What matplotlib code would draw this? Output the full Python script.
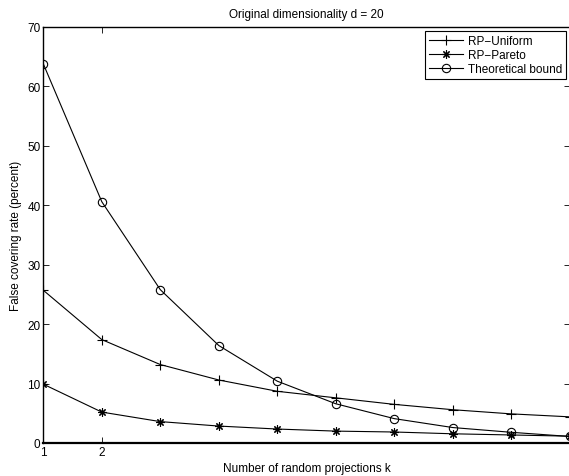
import matplotlib
matplotlib.use("Agg")
import matplotlib.pyplot as plt

# ========== DATA ==========
k_values = [1, 2, 3, 4, 5, 6, 7, 8, 9, 10]
rp_uniform = [25.7, 17.4, 13.2, 10.6, 8.7, 7.6, 6.5, 5.6, 4.9, 4.4]
rp_pareto = [9.9, 5.2, 3.6, 2.85, 2.35, 2.0, 1.85, 1.55, 1.35, 1.15]
theoretical = [63.8, 40.6, 25.8, 16.4, 10.4, 6.6, 4.1, 2.6, 1.8, 1.1]
y_ticks = [0, 10, 20, 30, 40, 50, 60, 70]
x_ticks = [1, 2]
# ==========================

plt.rcParams["font.family"] = ["Liberation Sans", "DejaVu Sans"]
plt.rcParams["font.size"] = 8.5

fig = plt.figure(figsize=(5.69, 4.77), dpi=100)
ax = fig.add_axes([43.3 / 569, 33 / 477, 526.5 / 569, 416 / 477])

line_kw = dict(color="black", linewidth=0.8, markerfacecolor="none",
               markeredgecolor="black", markeredgewidth=0.8)
ax.plot(k_values, rp_uniform, marker="+", markersize=7, label="RP\u2212Uniform", **line_kw)
ax.plot(k_values, rp_pareto, marker=(8, 2, 0), markersize=6, label="RP\u2212Pareto", **line_kw)
ax.plot(k_values, theoretical, marker="o", markersize=6, label="Theoretical bound", **line_kw)

ax.set_xlim(1, 10)
ax.set_ylim(0, 70)
ax.set_xticks(x_ticks)
ax.set_yticks(y_ticks)
ax.tick_params(direction="in", length=4, width=0.6, top=True, right=True, pad=2)
for sp in ax.spines.values():
    sp.set_linewidth(1.0)
ax.spines["bottom"].set_linewidth(1.6)

ax.set_title("Original dimensionality d = 20", fontsize=8.5, pad=7)
ax.set_xlabel("Number of random projections k", labelpad=3)
ax.set_ylabel("False covering rate (percent)", labelpad=4)

leg = ax.legend(loc="upper right", fancybox=False, framealpha=1, edgecolor="black",
                borderpad=0.3, labelspacing=0.2, handlelength=2.9, handletextpad=0.4,
                borderaxespad=0.35, fontsize=8.5)
leg.get_frame().set_linewidth(0.8)

fig.savefig("out.png", dpi=100)
